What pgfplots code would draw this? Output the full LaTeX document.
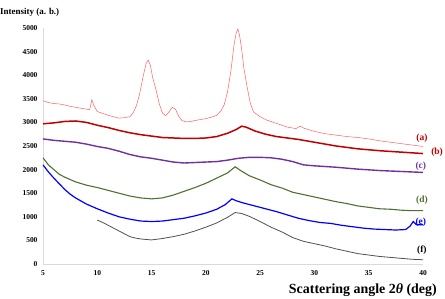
\documentclass[border=0pt]{standalone}
\usepackage{pgfplots}
\pgfplotsset{compat=1.18}
\usepackage{fontspec}
\setmainfont{Liberation Serif}
\definecolor{ca}{HTML}{FF6060}
\definecolor{cb}{HTML}{C00000}
\definecolor{cc}{HTML}{7030A0}
\definecolor{cd}{HTML}{4F7030}
\definecolor{ce}{HTML}{0000FF}
\definecolor{cf}{HTML}{505050}
\definecolor{axg}{HTML}{D9D9D9}
\begin{document}
\begin{tikzpicture}
\useasboundingbox (-43bp,-35bp) rectangle (402bp,264bp);
\begin{axis}[
  at={(0,0)}, anchor=south west,
  scale only axis, width=380bp, height=236bp,
  xmin=5, xmax=40, ymin=0, ymax=5000,
  xtick={5,10,...,40}, ytick={0,500,...,5000},
  axis lines=left, axis line style={-, draw=axg, line width=0.8pt},
  major tick length=0pt,
  tick label style={font=\bfseries\fontsize{7.5}{8}\selectfont},
  /pgf/number format/assume math mode=true,
  /pgf/number format/1000 sep={},
  yticklabel style={xshift=-2bp},
  xticklabel style={yshift=-3bp},
  clip=false,
]
\addplot[ca, line width=0.5pt] coordinates {
(5,3460)(5.5,3420)(6,3400)(6.5,3390)(7,3370)(7.5,3340)(8,3320)(8.5,3300)(9,3280)(9.3,3270)(9.5,3480)(9.7,3350)(10,3230)(10.5,3190)(11,3150)(11.5,3120)(12,3090)(12.5,3100)(13,3120)(13.3,3200)(13.6,3350)(13.9,3600)(14.2,3950)(14.5,4250)(14.7,4320)(14.9,4200)(15.1,3950)(15.4,3700)(15.7,3400)(16,3200)(16.3,3140)(16.6,3220)(16.9,3320)(17.2,3280)(17.5,3130)(17.8,3040)(18.2,3010)(18.6,3020)(19,3040)(19.5,3060)(20,3080)(20.5,3110)(21,3150)(21.4,3250)(21.7,3380)(22,3650)(22.3,4080)(22.6,4650)(22.8,4900)(22.95,4980)(23.1,4850)(23.3,4550)(23.5,4150)(23.8,3750)(24.1,3400)(24.4,3220)(25,3120)(25.6,3050)(26.5,2980)(27.5,2900)(28.3,2870)(28.7,2920)(29,2880)(30,2810)(31,2760)(32,2730)(33,2700)(34,2680)(35,2650)(36,2610)(37,2580)(38,2550)(39,2520)(40,2490)};
\addplot[cb, line width=1.5pt] coordinates {
(5,2970)(6,2990)(7,3020)(8,3030)(9,3000)(10,2940)(11,2890)(12,2830)(13,2780)(14,2740)(15,2710)(16,2680)(17,2670)(18,2660)(19,2660)(20,2670)(21,2700)(22,2770)(22.8,2850)(23.3,2920)(23.7,2900)(24.5,2820)(25.5,2750)(26.5,2700)(27.5,2670)(28.5,2640)(30,2580)(32,2500)(34,2440)(36,2400)(38,2370)(40,2340)};
\addplot[cc, line width=1.4pt] coordinates {
(5,2650)(6,2620)(7,2600)(8,2580)(9,2540)(10,2490)(11,2450)(12,2390)(13,2320)(14,2270)(15,2240)(16,2200)(17,2160)(18,2140)(19,2150)(20,2160)(21,2170)(22,2200)(23,2240)(24,2260)(25,2260)(26,2250)(27,2220)(28,2170)(29,2100)(30,2080)(32,2050)(34,2010)(36,1980)(38,1960)(40,1940)};
\addplot[cd, line width=1.1pt] coordinates {
(5,2250)(5.5,2100)(6,2000)(6.5,1900)(7,1840)(7.5,1790)(8,1740)(9,1670)(10,1620)(11,1560)(12,1500)(13,1440)(14,1400)(15,1380)(16,1400)(17,1460)(18,1540)(19,1620)(20,1710)(21,1820)(22,1930)(22.7,2060)(23.2,1980)(24,1870)(25,1780)(26,1680)(27,1610)(28,1520)(29,1470)(30,1420)(31,1370)(32,1320)(33,1280)(34,1230)(35,1200)(36,1170)(37,1160)(38,1140)(39,1130)(40,1130)};
\addplot[ce, line width=1.2pt] coordinates {
(5,2100)(5.5,1950)(6,1820)(6.5,1700)(7,1580)(7.5,1480)(8,1400)(9,1270)(10,1170)(11,1080)(12,1000)(13,950)(14,910)(15,900)(16,910)(17,940)(18,970)(19,1020)(20,1080)(21,1160)(21.8,1260)(22.4,1380)(22.8,1340)(23.5,1290)(24.5,1230)(25.5,1170)(26.5,1110)(27.5,1040)(28.5,970)(29.5,920)(30.5,880)(31.5,860)(32.5,820)(33.5,790)(34.5,760)(35.5,740)(36.5,730)(37.5,720)(38.4,730)(38.8,800)(39.1,900)(39.4,830)(40,830)};
\addplot[cf, line width=0.8pt] coordinates {
(10,930)(10.5,880)(11,820)(11.5,760)(12,700)(12.5,640)(13,580)(13.5,550)(14,530)(15,510)(16,540)(17,580)(18,630)(19,700)(20,780)(21,870)(22,990)(22.7,1090)(23.3,1070)(24,1010)(25,900)(26,780)(27,680)(28,560)(29,480)(30,430)(31,380)(32,320)(33,270)(34,220)(35,190)(36,160)(37,140)(38,120)(39,100)(40,90)};
\node[font=\bfseries\fontsize{9.5}{10}\selectfont, text=cb] at (axis cs:39.9,2670) {(a)};
\node[font=\bfseries\fontsize{9.5}{10}\selectfont, text=cb] at (axis cs:41.3,2370) {(b)};
\node[font=\bfseries\fontsize{9.5}{10}\selectfont, text=cc] at (axis cs:39.8,2080) {(c)};
\node[font=\bfseries\fontsize{9.5}{10}\selectfont, text=cd] at (axis cs:39.9,1360) {(d)};
\node[font=\bfseries\fontsize{9.5}{10}\selectfont, text=ce] at (axis cs:39.8,880) {(e)};
\node[font=\bfseries\fontsize{9.5}{10}\selectfont, text=black] at (axis cs:39.9,300) {(f)};
\end{axis}
\node[anchor=east, inner sep=0pt, font=\bfseries\fontsize{14}{16}\selectfont] at (394bp,-26bp) {Scattering angle 2\textit{θ} (deg)};
\node[anchor=west, inner sep=0pt, font=\bfseries\fontsize{9}{10}\selectfont] at (-43bp,252bp) {Intensity (a. b.)};
\end{tikzpicture}
\end{document}
